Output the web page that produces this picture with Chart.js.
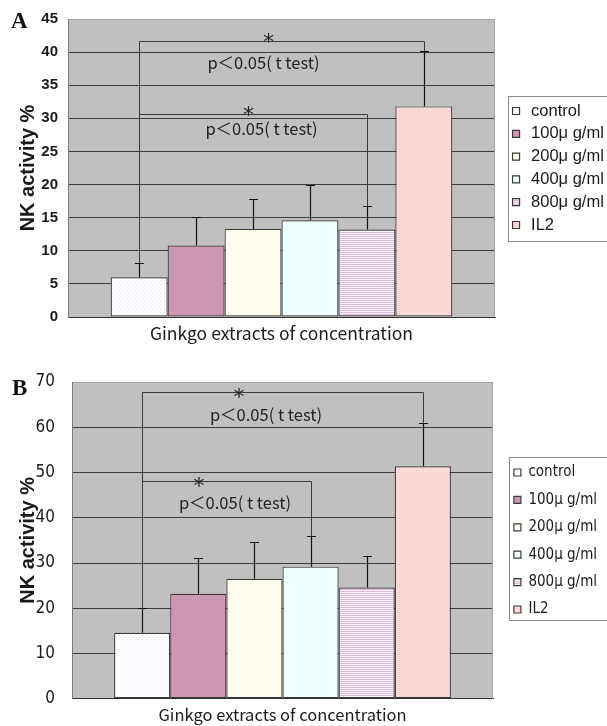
<!DOCTYPE html>
<html><head><meta charset="utf-8">
<script src="https://cdn.jsdelivr.net/npm/chart.js@4.4.1/dist/chart.umd.min.js"></script>
<style>
html,body{margin:0;padding:0;background:#fff;width:607px;height:726px;overflow:hidden;}
.panel{position:absolute;left:0;width:607px;}
#pA{top:0;height:345px}
#pB{top:345px;height:381px}
.lbl{position:absolute;font-family:'Liberation Serif','DejaVu Serif',serif;font-weight:bold;font-size:23px;color:#111;line-height:1}
canvas{display:block}
</style></head><body>
<div class="panel" id="pA"><canvas id="cA" width="607" height="345"></canvas><div class="lbl" style="left:11px;top:9px">A</div></div>
<div class="panel" id="pB"><canvas id="cB" width="607" height="381"></canvas><div class="lbl" style="left:12px;top:31px">B</div></div>
<script>
// ---- data ----
const categories = ['Ginkgo extracts of concentration'];
const seriesNames = ['control', '100\u03bc g/ml', '200\u03bc g/ml', '400\u03bc g/ml', '800\u03bc g/ml', 'IL2'];
const meansA = [6.0, 10.8, 13.3, 14.6, 13.2, 31.8];
const sdA    = [2.2, 4.3, 4.5, 5.3, 3.5, 8.3];
const meansB = [14.6, 23.2, 26.5, 29.2, 24.6, 51.4];
const sdB    = [5.4, 8.0, 8.1, 6.8, 6.9, 9.6];
const yTicksA = [0, 5, 10, 15, 20, 25, 30, 35, 40, 45];
const yTicksB = [0, 10, 20, 30, 40, 50, 60, 70];
const yTitle = 'NK activity %';
const sigText = 'p\uff1c0.05( t test)';
const bracketsA = [{from: 0, to: 5, y: 41.7}, {from: 0, to: 4, y: 30.6}];
const bracketsB = [{from: 0, to: 5, y: 67.9}, {from: 0, to: 3, y: 48.2}];

// ---- fills ----
function pattern(w, h, base, dots) {
  const c = document.createElement('canvas'); c.width = w; c.height = h;
  const g = c.getContext('2d'); g.fillStyle = base; g.fillRect(0, 0, w, h);
  dots.forEach(d => { g.fillStyle = d[2]; g.fillRect(d[0], d[1], d[3] || 1, d[4] || 1); });
  return g.createPattern(c, 'repeat');
}
const fills = [
  pattern(4, 4, '#ffffff', [[0, 0, '#e2e2ec'], [2, 2, '#e2e2ec']]),
  '#cd97b4',
  '#fffdf0',
  '#f0ffff',
  pattern(2, 2, '#fbf4f8', [[0, 0, '#dcbcd8', 2, 1]]),
  pattern(2, 2, '#ffd6d6', [[0, 0, '#ffe0e0'], [1, 1, '#ffcfcf']])
];

// ---- plugin ----
const deco = {
  id: 'deco',
  beforeLayout(chart, args, o) {
    const lg = chart.legend;
    if (lg && !lg.__fixed && o.legendWidth) {
      const orig = lg.fit;
      lg.fit = function () { orig.call(this); this.width = o.legendWidth; };
      lg.__fixed = true;
    }
  },
  afterLayout(chart, args, o) {
    const lg = chart.legend;
    if (lg) {
      lg.left += o.legendShift; lg.right += o.legendShift;
      lg.top += o.legendShiftY; lg.bottom += o.legendShiftY;
    }
  },
  beforeDraw(chart, args, o) {
    const {ctx, chartArea: a} = chart;
    ctx.save(); ctx.fillStyle = o.plotBg;
    ctx.fillRect(a.left, a.top, a.right - a.left, a.bottom - a.top);
    ctx.restore();
  },
  beforeDatasetsDraw(chart, args, o) {
    const {ctx, chartArea: a} = chart;
    ctx.save(); ctx.strokeStyle = o.frameColor; ctx.lineWidth = 1;
    ctx.beginPath(); ctx.moveTo(a.right - 0.5, a.top); ctx.lineTo(a.right - 0.5, a.bottom); ctx.stroke();
    ctx.restore();
  },
  afterDatasetsDraw(chart, args, o) {
    const {ctx} = chart; const ys = chart.scales.y;
    const bx = i => chart.getDatasetMeta(i).data[0].x;
    const m = i => chart.data.datasets[i].data[0];
    const top = i => ys.getPixelForValue(m(i) + o.sd[i]);
    ctx.save();
    ctx.strokeStyle = '#111'; ctx.lineWidth = 1.2;
    chart.data.datasets.forEach((d, i) => {
      const x = Math.round(bx(i)) + 0.5, y0 = ys.getPixelForValue(m(i)), y1 = Math.round(top(i)) + 0.5;
      ctx.beginPath(); ctx.moveTo(x, y0); ctx.lineTo(x, y1);
      ctx.moveTo(x - 4.5, y1); ctx.lineTo(x + 4.5, y1); ctx.stroke();
    });
    ctx.strokeStyle = '#3a3a3a'; ctx.lineWidth = 1;
    o.brackets.forEach((b, k) => {
      const xl = Math.round(bx(b.from)) + 0.5, xr = Math.round(bx(b.to)) + 0.5;
      const yb = Math.round(ys.getPixelForValue(b.y)) + 0.5;
      ctx.beginPath(); ctx.moveTo(xl, top(b.from)); ctx.lineTo(xl, yb); ctx.lineTo(xr, yb); ctx.lineTo(xr, top(b.to)); ctx.stroke();
      const lp = o.labelPos[k]; const mid = (xl + xr) / 2;
      ctx.fillStyle = '#222'; ctx.textAlign = 'center'; ctx.textBaseline = 'alphabetic';
      ctx.font = o.starFont;
      const sm = ctx.measureText('*');
      ctx.fillText('*', mid + lp.sx, yb + lp.sy + (sm.actualBoundingBoxAscent - sm.actualBoundingBoxDescent) / 2);
      ctx.font = o.textFont; ctx.textBaseline = 'middle';
      ctx.fillText(sigText, mid + lp.tx, yb + lp.ty);
    });
    ctx.restore();
  },
  afterDraw(chart, args, o) {
    const lg = chart.legend; if (!lg || !lg.legendHitBoxes || !lg.legendHitBoxes.length) return;
    const hb = lg.legendHitBoxes; const {ctx} = chart;
    const t = Math.round(hb[0].top - o.boxPadTop) + 0.5;
    const b = Math.round(hb[hb.length - 1].top + hb[hb.length - 1].height + o.boxPadBottom) + 0.5;
    const l = Math.round(lg.left + o.boxLeft) + 0.5;
    ctx.save(); ctx.strokeStyle = '#8a8a8a'; ctx.lineWidth = 1;
    ctx.strokeRect(l, t, chart.width + 10 - l, b - t);
    ctx.restore();
  }
};

function makeChart(id, means, sd, yTicks, brackets, cfg) {
  const ymax = yTicks[yTicks.length - 1];
  return new Chart(document.getElementById(id), {
    type: 'bar',
    data: {
      labels: categories,
      datasets: seriesNames.map((n, i) => ({
        label: n, data: [means[i]], backgroundColor: fills[i],
        borderColor: '#3a3a3a', borderWidth: 1.2, borderSkipped: false,
        categoryPercentage: 0.8, barPercentage: 1
      }))
    },
    options: {
      responsive: false, animation: false, events: [],
      layout: {padding: {top: cfg.padTop, left: 0, right: 0, bottom: 0}},
      scales: {
        x: {
          grid: {display: false, drawTicks: false},
          border: {color: '#333', width: 1},
          ticks: {color: '#1a1a1a', font: cfg.xFont, padding: cfg.xPad},
          afterFit: s => { s.height = cfg.xHeight; }
        },
        y: {
          min: 0, max: ymax,
          afterBuildTicks: s => { s.ticks = yTicks.map(v => ({value: v})); },
          grid: {color: c => (c.tick && c.tick.value === ymax) ? '#a4a4a4' : '#3c3c3c', lineWidth: 1, drawTicks: false},
          border: {color: '#7a7a7a', width: 1},
          ticks: {color: '#1a1a1a', font: cfg.yFont, padding: cfg.yPad},
          title: {display: true, text: yTitle, color: '#1a1a1a', font: {family: "'Liberation Sans', Arial, sans-serif", size: 20, weight: 'bold'}, padding: {top: cfg.titlePad, bottom: 0}},
          afterFit: s => { s.width = cfg.yWidth; }
        }
      },
      plugins: {
        tooltip: {enabled: false},
        legend: {
          position: 'right',
          labels: cfg.legendLabels
        },
        deco: {
          legendWidth: cfg.legendWidth, legendShift: cfg.legendShift, legendShiftY: cfg.legendShiftY,
          plotBg: '#c0c0c0', frameColor: '#a4a4a4', sd: sd, brackets: brackets,
          labelPos: cfg.labelPos, starFont: cfg.starFont, textFont: cfg.textFont,
          boxPadTop: cfg.boxPadTop, boxPadBottom: cfg.boxPadBottom, boxLeft: cfg.boxLeft
        }
      }
    },
    plugins: [deco]
  });
}

makeChart('cA', meansA, sdA, yTicksA, bracketsA, {
  padTop: 17, xHeight: 28, xPad: 6, yWidth: 68, yPad: 10, titlePad: 16,
  xFont: {family: "'Noto Sans CJK JP', 'Liberation Sans', sans-serif", size: 17.5},
  yFont: {family: "'Liberation Sans', Arial, sans-serif", size: 15, weight: 'bold'},
  legendWidth: 112, legendShift: 8, legendShiftY: -13,
  legendLabels: {usePointStyle: true, pointStyle: 'rect', boxWidth: 13.5, boxHeight: 7, padding: 6.3, color: '#1a1a1a',
    font: {family: "'Liberation Sans', Arial, sans-serif", size: 16.5}},
  boxPadTop: 6.5, boxPadBottom: 7.5, boxLeft: 5,
  starFont: "22px 'DejaVu Sans', sans-serif", textFont: "16.5px 'Noto Sans CJK JP', sans-serif",
  labelPos: [{sx: -13.5, sy: -4, tx: -18.5, ty: 21}, {sx: -5, sy: -4, tx: 8, ty: 14}]
});

makeChart('cB', meansB, sdB, yTicksB, bracketsB, {
  padTop: 37, xHeight: 27, xPad: 6, yWidth: 72, yPad: 17, titlePad: 16,
  xFont: {family: "'Noto Sans CJK JP', 'Liberation Sans', sans-serif", size: 16.5},
  yFont: {family: "'DejaVu Sans Condensed', 'Liberation Sans', Arial, sans-serif", size: 17},
  legendWidth: 114, legendShift: 8.5, legendShiftY: -13,
  legendLabels: {boxWidth: 7, boxHeight: 7, padding: 12.4, color: '#1a1a1a',
    font: {family: "'DejaVu Sans Condensed', 'Liberation Sans', Arial, sans-serif", size: 15}},
  boxPadTop: 8.5, boxPadBottom: 3, boxLeft: 7.5,
  starFont: "22px 'DejaVu Sans', sans-serif", textFont: "16.5px 'Noto Sans CJK JP', sans-serif",
  labelPos: [{sx: -44, sy: 0, tx: -17, ty: 22}, {sx: -28, sy: 0, tx: 8, ty: 21}]
});
</script>
</body></html>
